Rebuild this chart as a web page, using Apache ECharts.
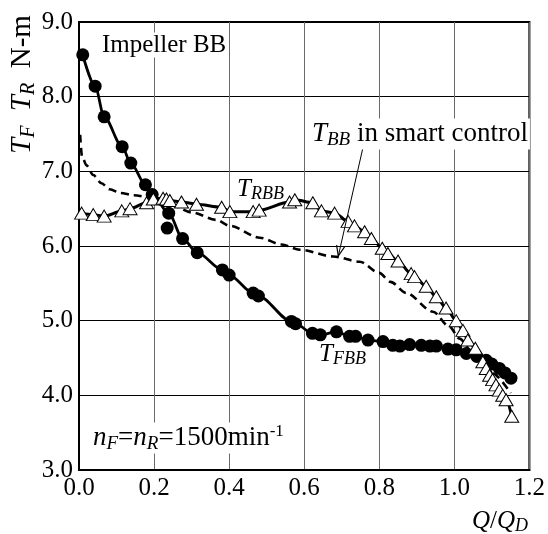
<!DOCTYPE html>
<html>
<head>
<meta charset="utf-8">
<script src="https://cdn.jsdelivr.net/npm/echarts@6/dist/echarts.min.js"></script>
<style>
    html, body { margin: 0; padding: 0; background: #fff; }
    #chart { width: 548px; height: 534px; }
</style>
</head>
<body>
<div id="chart"></div>
<script>
    // T_FBB (filled circles)
    var fbbQ = [0.010, 0.043, 0.067, 0.115, 0.138, 0.177, 0.195, 0.239, 0.276, 0.315, 0.382, 0.400, 0.464, 0.478,
        0.566, 0.577, 0.622, 0.643, 0.686, 0.721, 0.737, 0.770, 0.810, 0.836, 0.855, 0.881, 0.912, 0.935, 0.952,
        0.983, 1.005, 1.032, 1.060, 1.085, 1.100, 1.120, 1.135, 1.151];
    var fbbT = [8.56, 8.14, 7.73, 7.33, 7.11, 6.82, 6.69, 6.44, 6.10, 5.91, 5.68, 5.61, 5.37, 5.33,
        4.99, 4.96, 4.83, 4.81, 4.85, 4.79, 4.79, 4.74, 4.72, 4.67, 4.66, 4.68, 4.67, 4.66, 4.66,
        4.62, 4.61, 4.56, 4.52, 4.47, 4.42, 4.36, 4.30, 4.23];
    // one stray point off the curve
    var fbbStrayQ = [0.235];
    var fbbStrayT = [6.24];

    // T_RBB (open triangles)
    var rbbQ = [0.007, 0.038, 0.067, 0.114, 0.136, 0.180, 0.198, 0.224, 0.233, 0.242, 0.273, 0.313, 0.380, 0.402,
        0.464, 0.480, 0.561, 0.575, 0.623, 0.646, 0.681, 0.717, 0.734, 0.761, 0.779, 0.808, 0.823, 0.850, 0.885,
        0.894, 0.925, 0.952, 0.978, 1.005, 1.023, 1.036, 1.056, 1.076, 1.085, 1.094, 1.102, 1.111, 1.120, 1.129,
        1.138, 1.153];
    var rbbT = [6.44, 6.42, 6.40, 6.47, 6.50, 6.58, 6.63, 6.64, 6.63, 6.61, 6.59, 6.56, 6.52, 6.46,
        6.46, 6.48, 6.59, 6.62, 6.58, 6.47, 6.44, 6.33, 6.27, 6.19, 6.10, 5.97, 5.90, 5.80, 5.63,
        5.59, 5.46, 5.32, 5.17, 5.00, 4.87, 4.74, 4.63, 4.45, 4.36, 4.27, 4.21, 4.14, 4.07, 4.00,
        3.94, 3.72];

    // T_BB in smart control (dashed)
    var bbQ = [0.003, 0.008, 0.020, 0.038, 0.060, 0.082, 0.110, 0.145, 0.198, 0.250, 0.300, 0.366, 0.402, 0.482,
        0.540, 0.588, 0.677, 0.748, 0.800, 0.830, 0.872, 0.943, 0.987, 1.014, 1.050, 1.100, 1.150];
    var bbT = [7.49, 7.20, 7.08, 6.95, 6.84, 6.76, 6.71, 6.68, 6.64, 6.54, 6.45, 6.35, 6.27, 6.11,
        6.02, 5.95, 5.86, 5.79, 5.64, 5.52, 5.37, 5.12, 4.92, 4.76, 4.56, 4.30, 4.03];

    var xTicks = ['0.0', '0.2', '0.4', '0.6', '0.8', '1.0', '1.2'];
    var yTicks = ['3.0', '4.0', '5.0', '6.0', '7.0', '8.0', '9.0'];

    function pairs(xs, ys) {
        return xs.map(function (x, i) { return [x, ys[i]]; });
    }

    var serif = 'Liberation Serif';
    function makeRich(big, small, drop) {
        return {
            i: {fontFamily: serif, fontSize: big, fontStyle: 'italic', color: '#000'},
            n: {fontFamily: serif, fontSize: big, color: '#000'},
            s: {fontFamily: serif, fontSize: small, fontStyle: 'italic', color: '#000', padding: [drop, 0, 0, 0]},
            p: {fontFamily: serif, fontSize: small - 2, color: '#000', padding: [0, 0, drop, 0]}
        };
    }

    function label(x, y, text, rich, rot, bg) {
        return {
            type: 'text', x: x, y: y, rotation: rot || 0, z: 100,
            style: {
                text: text, rich: rich,
                align: 'left', verticalAlign: 'middle',
                textAlign: 'left', textVerticalAlign: 'middle',
                backgroundColor: bg ? '#fff' : null, padding: bg ? [0, 2, 0, 2] : 0
            }
        };
    }

    // arrow: T_BB label -> dashed curve
    var a0 = [364, 143], a1 = [338.3, 256];
    var dx = a1[0] - a0[0], dy = a1[1] - a0[1], len = Math.sqrt(dx * dx + dy * dy);
    var ux = dx / len, uy = dy / len, ang = 0.38, hl = 11;
    function arm(sign) {
        var c = Math.cos(sign * ang), s = Math.sin(sign * ang);
        return [a1[0] - hl * (ux * c - uy * s), a1[1] - hl * (ux * s + uy * c)];
    }

    var chart = echarts.init(document.getElementById('chart'));
    var option = {
        backgroundColor: '#fff',
        animation: false,
        grid: {left: 79, right: 18, top: 22, bottom: 64, show: true, borderColor: '#000', borderWidth: 2},
        xAxis: {
            type: 'value', min: 0, max: 1.2, interval: 0.2,
            axisLine: {lineStyle: {color: '#000', width: 2}},
            axisTick: {show: false},
            axisLabel: {
                margin: 6, color: '#000', fontFamily: serif, fontSize: 25,
                formatter: function (v) { return xTicks[Math.round(v / 0.2)]; }
            },
            splitLine: {lineStyle: {color: '#6a6a6a', width: 1}}
        },
        yAxis: {
            type: 'value', min: 3, max: 9, interval: 1,
            axisLine: {lineStyle: {color: '#000', width: 2}},
            axisTick: {show: false},
            axisLabel: {
                margin: 6, color: '#000', fontFamily: serif, fontSize: 25,
                formatter: function (v) { return yTicks[Math.round(v - 3)]; }
            },
            splitLine: {lineStyle: {color: '#000', width: 1}}
        },
        graphic: [
            label(100, 45, '{n|Impeller BB}', makeRich(25, 18, 11), 0, true),
            label(22, 154, '{i|T}{s|F}{n|  }{i|T}{s|R}{n|  N-m}', makeRich(29, 20, 13), Math.PI / 2, false),
            label(237, 189, '{i|T}{s|RBB}', makeRich(25, 18, 11), 0, false),
            label(319, 354, '{i|T}{s|FBB}', makeRich(25, 18, 11), 0, false),
            label(310, 134, '{i|T}{s|BB}{n| in smart control}', makeRich(27, 19, 12), 0, true),
            label(91, 438, '{i|n}{s|F}{n|=}{i|n}{s|R}{n|=1500min}{p|-1}', makeRich(27, 19, 12), 0, true),
            label(472, 521, '{i|Q}{n|/}{i|Q}{s|D}', makeRich(25, 18, 11), 0, false),
            {type: 'line', z: 90, shape: {x1: a0[0], y1: a0[1], x2: a1[0], y2: a1[1]},
                style: {stroke: '#000', lineWidth: 1}},
            {type: 'polyline', z: 90, shape: {points: [arm(1), a1, arm(-1)]},
                style: {stroke: '#000', lineWidth: 1.2, fill: null}}
        ],
        series: [
            {
                type: 'line', name: 'T_BB smart', data: pairs(bbQ, bbT), z: 2,
                showSymbol: false, symbol: 'none', smooth: 0.3, smoothMonotone: 'x',
                lineStyle: {color: '#000', width: 2.6, type: [8, 5]}
            },
            {
                type: 'line', name: 'T_FBB', data: pairs(fbbQ, fbbT), z: 3,
                symbol: 'circle', symbolSize: 13, smooth: 0.3, smoothMonotone: 'x',
                itemStyle: {color: '#000'},
                lineStyle: {color: '#000', width: 2.8}
            },
            {
                type: 'scatter', name: 'T_FBB stray', data: pairs(fbbStrayQ, fbbStrayT), z: 3,
                symbol: 'circle', symbolSize: 13, itemStyle: {color: '#000', opacity: 1}
            },
            {
                type: 'line', name: 'T_RBB', data: pairs(rbbQ, rbbT), z: 4,
                symbol: 'triangle', symbolSize: [14, 12], smooth: 0.3, smoothMonotone: 'x',
                itemStyle: {color: '#fff', borderColor: '#000', borderWidth: 1},
                lineStyle: {color: '#000', width: 3}
            }
        ]
    };
    chart.setOption(option);
</script>
</body>
</html>
